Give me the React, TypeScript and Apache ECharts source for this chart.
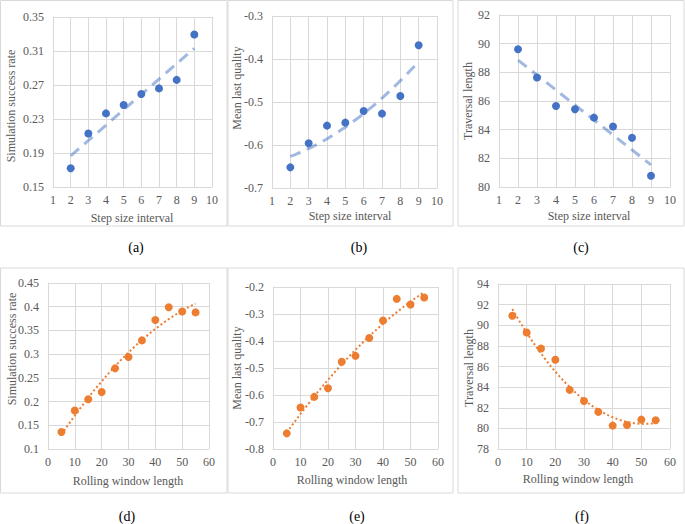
import React, { useEffect, useRef } from "react";
import * as echarts from "echarts";

// ---- data ----
const stepX = [2, 3, 4, 5, 6, 7, 8, 9];
const successStep = [0.172, 0.213, 0.2366, 0.2465, 0.2594, 0.266, 0.276, 0.3295];
const qualityStep = [-0.652, -0.596, -0.555, -0.548, -0.521, -0.527, -0.486, -0.368];
const lengthStep = [89.61, 87.64, 85.65, 85.42, 84.84, 84.22, 83.43, 80.79];

const windowX = [5, 10, 15, 20, 25, 30, 35, 40, 45, 50, 55];
const successWin = [0.136, 0.181, 0.205, 0.22, 0.27, 0.294, 0.329, 0.372, 0.399, 0.39, 0.388];
const qualityWin = [-0.742, -0.646, -0.607, -0.575, -0.477, -0.455, -0.389, -0.324, -0.244, -0.265, -0.239];
const lengthWin = [90.92, 89.3, 87.75, 86.65, 83.73, 82.66, 81.6, 80.27, 80.33, 80.85, 80.79];

const captions = ["(a)", "(b)", "(c)", "(d)", "(e)", "(f)"];
const xTitles = [
  "Step size interval",
  "Step size interval",
  "Step size interval",
  "Rolling window length",
  "Rolling window length",
  "Rolling window length",
];
const yTitles = [
  "Simulation success rate",
  "Mean last quality",
  "Traversal length",
  "Simulation success rate",
  "Mean last quality",
  "Traversal length",
];

// least-squares polynomial fit (trend line, as the spreadsheet computes it)
function polyfit(xs: number[], ys: number[], deg: number): number[] {
  const n = deg + 1;
  const A: number[][] = [];
  for (let r = 0; r < n; r++) {
    const row: number[] = [];
    for (let c = 0; c < n; c++) {
      let s = 0;
      for (const x of xs) s += Math.pow(x, r + c);
      row.push(s);
    }
    let b = 0;
    xs.forEach((x, i) => (b += Math.pow(x, r) * ys[i]));
    row.push(b);
    A.push(row);
  }
  for (let i = 0; i < n; i++) {
    let p = i;
    for (let k = i + 1; k < n; k++) if (Math.abs(A[k][i]) > Math.abs(A[p][i])) p = k;
    [A[i], A[p]] = [A[p], A[i]];
    for (let k = i + 1; k < n; k++) {
      const f = A[k][i] / A[i][i];
      for (let c = i; c <= n; c++) A[k][c] -= f * A[i][c];
    }
  }
  const coef = new Array(n).fill(0);
  for (let i = n - 1; i >= 0; i--) {
    let s = A[i][n];
    for (let c = i + 1; c < n; c++) s -= A[i][c] * coef[c];
    coef[i] = s / A[i][i];
  }
  return coef;
}

function trend(xs: number[], ys: number[], deg: number): number[][] {
  const coef = polyfit(xs, ys, deg);
  const x0 = xs[0];
  const x1 = xs[xs.length - 1];
  const steps = deg === 1 ? 1 : 60;
  const pts: number[][] = [];
  for (let i = 0; i <= steps; i++) {
    const x = x0 + ((x1 - x0) * i) / steps;
    let y = 0;
    coef.forEach((c, k) => (y += c * Math.pow(x, k)));
    pts.push([x, y]);
  }
  return pts;
}

const FONT = "Liberation Serif";
const GRAY = "#595959";
const GRID = "#D9D9D9";
const BLUE = "#4472C4";
const ORANGE = "#ED7D31";

export default function App() {
  const ref = useRef<HTMLDivElement>(null);

  useEffect(() => {
    document.body.style.margin = "0";
    if (!ref.current) return;
    const chart = echarts.init(ref.current, null, { renderer: "svg" });
    const W = 685;
    const H = 524;

    // plot rectangles [left, top, right, bottom] in page px
    const rects = [
      [53, 17, 212, 187],
      [272, 16, 437, 188],
      [499, 15, 670, 187],
      [48, 283, 209, 449],
      [273, 287, 438, 449],
      [498, 284, 670, 449],
    ];
    const yRanges = [
      [0.15, 0.35, 0.04],
      [-0.7, -0.3, 0.1],
      [80, 92, 2],
      [0.1, 0.45, 0.05],
      [-0.8, -0.2, 0.1],
      [78, 94, 2],
    ];
    const xRanges = [
      [1, 10, 1],
      [1, 10, 1],
      [1, 10, 1],
      [0, 60, 10],
      [0, 60, 10],
      [0, 60, 10],
    ];
    const sets = [
      { x: stepX, y: successStep, deg: 1, color: BLUE, dash: "dash" },
      { x: stepX, y: qualityStep, deg: 2, color: BLUE, dash: "dash" },
      { x: stepX, y: lengthStep, deg: 1, color: BLUE, dash: "dash" },
      { x: windowX, y: successWin, deg: 2, color: ORANGE, dash: "dot" },
      { x: windowX, y: qualityWin, deg: 2, color: ORANGE, dash: "dot" },
      { x: windowX, y: lengthWin, deg: 2, color: ORANGE, dash: "dot" },
    ];

    const fmt = (v: number) => String(parseFloat(v.toFixed(4)));
    const labelStyle = { color: GRAY, fontFamily: FONT, fontSize: 12 };

    const grid = rects.map((r) => ({
      left: r[0],
      top: r[1],
      right: W - r[2],
      bottom: H - r[3],
      containLabel: false,
    }));
    const xAxis = xRanges.map((xr, i) => ({
      type: "value",
      gridIndex: i,
      min: xr[0],
      max: xr[1],
      interval: xr[2],
      axisLine: { show: true, lineStyle: { color: GRID } },
      axisTick: { show: false },
      splitLine: { show: true, lineStyle: { color: GRID } },
      axisLabel: { ...labelStyle, margin: 7, formatter: fmt },
    }));
    const yAxis = yRanges.map((yr, i) => ({
      type: "value",
      gridIndex: i,
      min: yr[0],
      max: yr[1],
      interval: yr[2],
      axisLine: { show: true, lineStyle: { color: GRID } },
      axisTick: { show: false },
      splitLine: { show: true, lineStyle: { color: GRID } },
      axisLabel: { ...labelStyle, margin: 9, formatter: fmt },
    }));

    const series: any[] = [];
    sets.forEach((s, i) => {
      series.push({
        type: "line",
        xAxisIndex: i,
        yAxisIndex: i,
        data: trend(s.x, s.y, s.deg),
        showSymbol: false,
        symbol: "none",
        z: 2,
        lineStyle:
          s.dash === "dash"
            ? { color: s.color, width: 3, opacity: 0.5, type: [11, 7] }
            : { color: s.color, width: 2, type: [2, 2.5] },
        silent: true,
      });
      series.push({
        type: "scatter",
        xAxisIndex: i,
        yAxisIndex: i,
        data: s.x.map((x, k) => [x, s.y[k]]),
        symbol: "circle",
        symbolSize: 8,
        z: 3,
        itemStyle: { color: s.color, opacity: 1 },
      });
    });

    const graphic: any[] = [];
    const borders = [
      [0.5, 0.5, 227, 226],
      [228, 0.5, 453, 226],
      [458, 0.5, 684, 226],
      [0.5, 268, 227, 493],
      [228, 268, 453, 493],
      [458, 268, 684, 493],
    ];
    borders.forEach((b) =>
      graphic.push({
        type: "rect",
        shape: { x: b[0], y: b[1], width: b[2] - b[0], height: b[3] - b[1] },
        style: { fill: "none", stroke: GRID, lineWidth: 1 },
        z: 0,
      })
    );
    const capPos = [
      [136, 247],
      [359, 247],
      [581, 247],
      [127, 516],
      [357, 516],
      [582, 516],
    ];
    capPos.forEach((p, i) =>
      graphic.push({
        type: "text",
        x: p[0],
        y: p[1],
        style: {
          text: captions[i],
          fontFamily: FONT,
          fontSize: 14,
          fill: "#000",
          align: "center",
          verticalAlign: "middle",
        },
      })
    );
    const xtPos = [
      [132, 218],
      [350, 216],
      [589, 216],
      [128, 481],
      [352, 480],
      [578, 479],
    ];
    xtPos.forEach((p, i) =>
      graphic.push({
        type: "text",
        x: p[0],
        y: p[1],
        style: {
          text: xTitles[i],
          fontFamily: FONT,
          fontSize: 12,
          fill: GRAY,
          align: "center",
          verticalAlign: "middle",
        },
      })
    );
    const ytPos = [
      [11, 106],
      [237, 88],
      [468, 101],
      [12, 349],
      [237, 368],
      [469, 368],
    ];
    ytPos.forEach((p, i) =>
      graphic.push({
        type: "text",
        x: p[0],
        y: p[1],
        rotation: Math.PI / 2,
        style: {
          text: yTitles[i],
          fontFamily: FONT,
          fontSize: 12,
          fill: GRAY,
          align: "center",
          verticalAlign: "middle",
        },
      })
    );

    chart.setOption({
      animation: false,
      backgroundColor: "#fff",
      textStyle: { fontFamily: FONT },
      grid,
      xAxis,
      yAxis,
      series,
      graphic,
    });
    return () => chart.dispose();
  }, []);

  return <div ref={ref} style={{ width: 685, height: 524 }} />;
}
